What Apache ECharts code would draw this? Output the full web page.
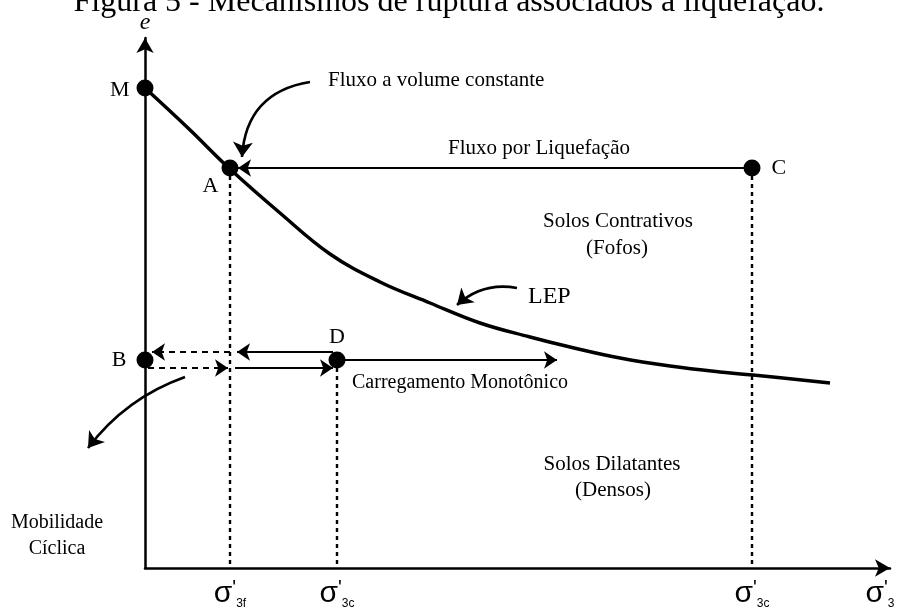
<!DOCTYPE html>
<html>
<head>
<meta charset="utf-8">
<script src="https://cdn.jsdelivr.net/npm/echarts@6/dist/echarts.min.js"></script>
<style>
  html, body { margin: 0; background: #fff; }
  #chart { width: 898px; height: 610px; }
</style>
</head>
<body>
<div id="chart"></div>
<script>
const serif = '"Liberation Serif", "DejaVu Serif", serif';
const sans = '"Liberation Sans", Arial, sans-serif';

// LEP (steady state line), x = sigma'3, y = e
const lepX = [0, 43, 85, 135, 185, 235, 285, 335, 385, 425, 475, 525, 575, 608, 685];
const lepY = [480, 440, 399, 355, 314, 286, 265, 245, 231, 221, 210, 202, 196, 193, 185];

// named states
const pointNames = ['M', 'A', 'B', 'C', 'D'];
const pointX = [0, 85, 0, 607, 192];
const pointY = [480, 400, 208, 400, 208];

// marked stresses on the x axis
const tickValues = [85, 192, 607];
const tickSubs = ['3f', '3c', '3c'];

// dotted guides from the states down to the axis
const guides = [
  [[85, 400], [85, 0]],
  [[192, 208], [192, 0]],
  [[607, 400], [607, 0]]
];

// straight arrows [from, to]
const solidArrows = [
  [[607, 400], [93, 400]],   // fluxo por liquefacao C -> A
  [[192, 208], [412, 208]],  // carregamento monotonico
  [[188, 216], [92, 216]],   // D -> back
  [[90, 200], [188, 200]]    // -> D
];
const dashedArrows = [
  [[85, 216], [7, 216]],
  [[3, 200], [83, 200]]
];

// curved pointer arrows [from, to, curveness]
const curvedArrows = [
  [[165, 486], [97, 411], -0.4],
  [[372, 280], [312, 263], -0.25],
  [[40, 191], [-57, 120], -0.15]
];

const labelPos = { M: 'left', A: 'left', B: 'left', C: 'right', D: 'top' };
const labelOffset = { M: [0, 2], A: [4, 18], B: [-3, 0], C: [4, 0], D: [0, 4] };

const chart = echarts.init(document.getElementById('chart'));

const sigmaRich = {
  s: { fontFamily: sans, fontSize: 30, lineHeight: 32, color: '#000' },
  p: { fontFamily: sans, fontSize: 20, lineHeight: 32, verticalAlign: 'top', color: '#000' },
  n: { fontFamily: sans, fontSize: 12, lineHeight: 32, verticalAlign: 'bottom', color: '#000' }
};

const toLines = (arr) => arr.map(a => ({ coords: [a[0], a[1]] }));

chart.setOption({
  animation: false,
  title: {
    text: 'Figura 5 - Mecanismos de ruptura associados à liquefação.',
    left: 'center',
    top: -18,
    textStyle: { fontFamily: serif, fontSize: 32, fontWeight: 'normal', color: '#000' }
  },
  grid: { left: 145, right: 8, top: 38, bottom: 42 },
  xAxis: {
    type: 'value',
    min: 0,
    max: 745,
    splitLine: { show: false },
    axisTick: { show: false },
    axisLine: {
      lineStyle: { color: '#000', width: 2.5 },
      symbol: ['none', 'arrow'],
      symbolSize: [13, 15]
    },
    axisLabel: {
      customValues: tickValues,
      margin: 10,
      formatter: v => {
        const i = tickValues.indexOf(v);
        return '{s|σ}{p|\'}{n|' + tickSubs[i] + '}';
      },
      rich: sigmaRich
    },
    name: '{s|σ}{p|\'}{n|3}',
    nameLocation: 'end',
    nameGap: -10,
    nameTextStyle: {
      align: 'center',
      verticalAlign: 'top',
      padding: [10, 0, 0, 0],
      rich: sigmaRich
    }
  },
  yAxis: {
    type: 'value',
    min: 0,
    max: 530,
    splitLine: { show: false },
    axisTick: { show: false },
    axisLabel: { show: false },
    axisLine: {
      lineStyle: { color: '#000', width: 2.5 },
      symbol: ['none', 'arrow'],
      symbolSize: [13, 15]
    },
    name: 'e',
    nameLocation: 'end',
    nameGap: 3,
    nameTextStyle: { fontFamily: serif, fontStyle: 'italic', fontSize: 24, color: '#000' }
  },
  graphic: [
    { type: 'text', x: 328, y: 80, style: { text: 'Fluxo a volume constante', fontFamily: serif, fontSize: 21, fill: '#000', align: 'left', verticalAlign: 'middle' } },
    { type: 'text', x: 539, y: 148, style: { text: 'Fluxo por Liquefação', fontFamily: serif, fontSize: 21, fill: '#000', align: 'center', verticalAlign: 'middle' } },
    { type: 'text', x: 618, y: 221, style: { text: 'Solos Contrativos', fontFamily: serif, fontSize: 21, fill: '#000', align: 'center', verticalAlign: 'middle' } },
    { type: 'text', x: 617, y: 248, style: { text: '(Fofos)', fontFamily: serif, fontSize: 21, fill: '#000', align: 'center', verticalAlign: 'middle' } },
    { type: 'text', x: 528, y: 297, style: { text: 'LEP', fontFamily: serif, fontSize: 24, fill: '#000', align: 'left', verticalAlign: 'middle' } },
    { type: 'text', x: 352, y: 383, style: { text: 'Carregamento Monotônico', fontFamily: serif, fontSize: 20, fill: '#000', align: 'left', verticalAlign: 'middle' } },
    { type: 'text', x: 612, y: 464, style: { text: 'Solos Dilatantes', fontFamily: serif, fontSize: 21, fill: '#000', align: 'center', verticalAlign: 'middle' } },
    { type: 'text', x: 613, y: 490, style: { text: '(Densos)', fontFamily: serif, fontSize: 21, fill: '#000', align: 'center', verticalAlign: 'middle' } },
    { type: 'text', x: 57, y: 523, style: { text: 'Mobilidade', fontFamily: serif, fontSize: 20, fill: '#000', align: 'center', verticalAlign: 'middle' } },
    { type: 'text', x: 57, y: 549, style: { text: 'Cíclica', fontFamily: serif, fontSize: 20, fill: '#000', align: 'center', verticalAlign: 'middle' } }
  ],
  series: [
    {
      name: 'LEP',
      type: 'line',
      data: lepX.map((x, i) => [x, lepY[i]]),
      smooth: 0.4,
      symbol: 'none',
      lineStyle: { color: '#000', width: 3.5 },
      z: 3
    },
    {
      type: 'lines',
      coordinateSystem: 'cartesian2d',
      clip: false,
      symbol: 'none',
      data: toLines(guides),
      lineStyle: { color: '#000', width: 2.4, type: [4, 4], opacity: 1 }
    },
    {
      type: 'lines',
      coordinateSystem: 'cartesian2d',
      clip: false,
      symbol: ['none', 'arrow'],
      symbolSize: 13,
      data: toLines(solidArrows),
      lineStyle: { color: '#000', width: 2.2, opacity: 1 }
    },
    {
      type: 'lines',
      coordinateSystem: 'cartesian2d',
      clip: false,
      symbol: ['none', 'arrow'],
      symbolSize: 13,
      data: toLines(dashedArrows),
      lineStyle: { color: '#000', width: 2.2, type: [6, 5], opacity: 1 }
    },
    {
      type: 'lines',
      coordinateSystem: 'cartesian2d',
      clip: false,
      symbol: ['none', 'arrow'],
      symbolSize: 15,
      data: curvedArrows.map(a => ({ coords: [a[0], a[1]], lineStyle: { curveness: a[2] } })),
      lineStyle: { color: '#000', width: 2.6, opacity: 1 }
    },
    {
      type: 'scatter',
      symbolSize: 17,
      itemStyle: { color: '#000', opacity: 1 },
      z: 5,
      clip: false,
      data: pointNames.map((n, i) => ({
        name: n,
        value: [pointX[i], pointY[i]],
        label: {
          show: true,
          formatter: '{b}',
          position: labelPos[n],
          offset: labelOffset[n],
          distance: 7,
          fontFamily: serif,
          fontSize: 22,
          color: '#000'
        }
      }))
    }
  ]
});
</script>
</body>
</html>
